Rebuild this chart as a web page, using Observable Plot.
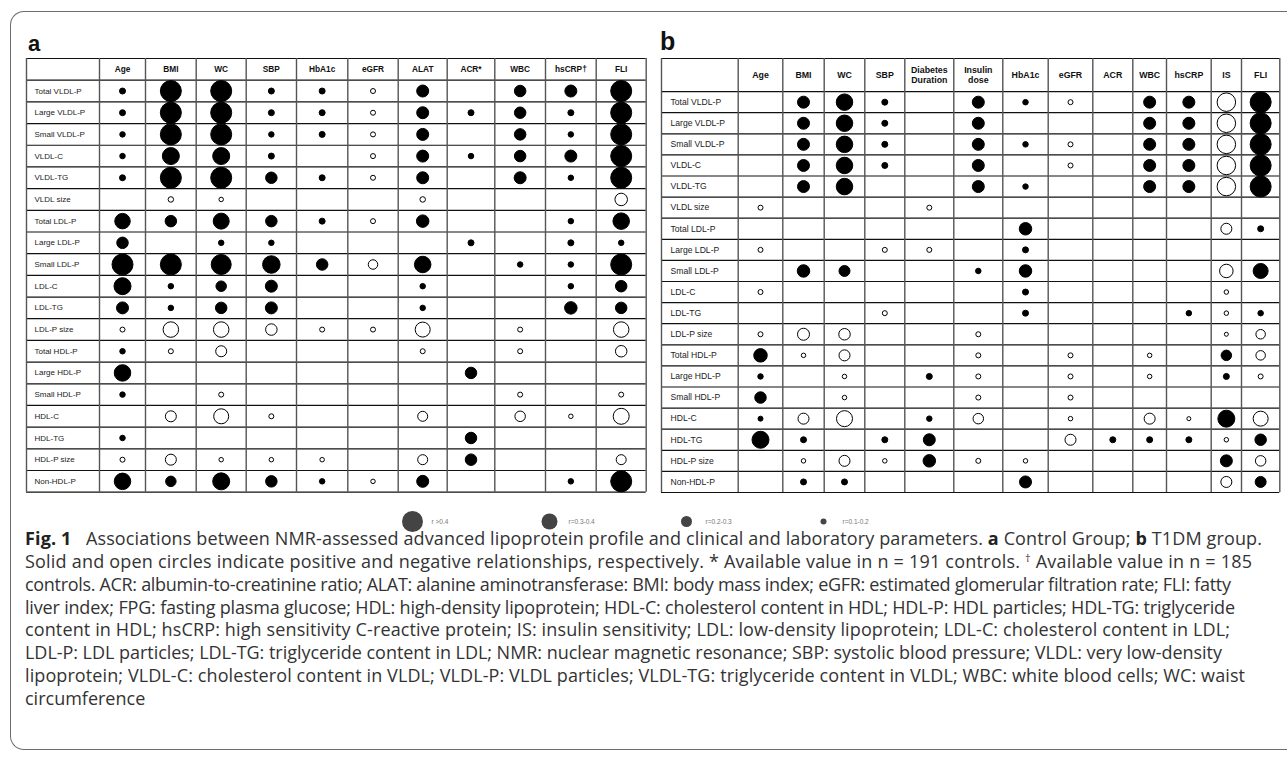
<!DOCTYPE html>
<html><head><meta charset="utf-8">
<script src="https://cdn.jsdelivr.net/npm/d3@7"></script>
<script src="https://cdn.jsdelivr.net/npm/@observablehq/plot@0.6"></script>
<style>
html,body{margin:0;padding:0;width:1287px;height:761px;overflow:hidden;background:#fff;}
#frame{position:absolute;left:10px;top:11px;width:1400px;height:739px;border:1.3px solid #6e6e6e;border-right:none;border-radius:14px 0 0 14px;box-sizing:border-box;}
.plabel{position:absolute;font-family:"Liberation Sans",Arial,sans-serif;font-weight:bold;line-height:1;color:#111;}
.abs{position:absolute;}
#caption{position:absolute;left:0;top:520px;}
#caption text{font-family:"Open Sans",sans-serif;font-size:18px;fill:#333;}
#caption tspan.b{font-weight:700;fill:#222;}
</style></head>
<body>
<div id="frame"></div>
<div class="plabel" style="left:28px;top:33px;font-size:22px;">a</div>
<div class="plabel" style="left:660px;top:29px;font-size:25px;">b</div>
<div id="panelA" class="abs" style="left:0;top:0;"></div>
<div id="panelB" class="abs" style="left:655px;top:0;"></div>
<div id="legend" class="abs" style="left:380px;top:505px;"></div>
<svg id="caption" width="1287" height="200" xmlns="http://www.w3.org/2000/svg">
<text x="25" y="25" textLength="1237" lengthAdjust="spacing"><tspan class="b">Fig. 1</tspan><tspan>&#160;&#160; Associations between NMR-assessed advanced lipoprotein profile and clinical and laboratory parameters. </tspan><tspan class="b">a</tspan><tspan> Control Group; </tspan><tspan class="b">b</tspan><tspan> T1DM group.</tspan></text>
<text x="25" y="47.86" textLength="1227" lengthAdjust="spacing">Solid and open circles indicate positive and negative relationships, respectively. * Available value in n = 191 controls. <tspan dy="-6" font-size="11">†</tspan><tspan dy="6"> Available value in n = 185</tspan></text>
<text x="25" y="70.72" textLength="1206" lengthAdjust="spacing">controls. ACR: albumin-to-creatinine ratio; ALAT: alanine aminotransferase: BMI: body mass index; eGFR: estimated glomerular filtration rate; FLI: fatty</text>
<text x="25" y="93.58" textLength="1210" lengthAdjust="spacing">liver index; FPG: fasting plasma glucose; HDL: high-density lipoprotein; HDL-C: cholesterol content in HDL; HDL-P: HDL particles; HDL-TG: triglyceride</text>
<text x="25" y="116.44" textLength="1205" lengthAdjust="spacing">content in HDL; hsCRP: high sensitivity C-reactive protein; IS: insulin sensitivity; LDL: low-density lipoprotein; LDL-C: cholesterol content in LDL;</text>
<text x="25" y="139.3" textLength="1197" lengthAdjust="spacing">LDL-P: LDL particles; LDL-TG: triglyceride content in LDL; NMR: nuclear magnetic resonance; SBP: systolic blood pressure; VLDL: very low-density</text>
<text x="25" y="162.16" textLength="1220" lengthAdjust="spacing">lipoprotein; VLDL-C: cholesterol content in VLDL; VLDL-P: VLDL particles; VLDL-TG: triglyceride content in VLDL; WBC: white blood cells; WC: waist</text>
<text x="25" y="185.02">circumference</text>
</svg>
<script>
const _ = null;
const rowLabels = ["Total VLDL-P","Large VLDL-P","Small VLDL-P","VLDL-C","VLDL-TG","VLDL size","Total LDL-P","Large LDL-P","Small LDL-P","LDL-C","LDL-TG","LDL-P size","Total HDL-P","Large HDL-P","Small HDL-P","HDL-C","HDL-TG","HDL-P size","Non-HDL-P"];
const colsA = ["Age","BMI","WC","SBP","HbA1c","eGFR","ALAT","ACR*","WBC","hsCRP†","FLI"];
const colsB = ["Age","BMI","WC","SBP","Diabetes\nDuration","Insulin\ndose","HbA1c","eGFR","ACR","WBC","hsCRP","IS","FLI"];
// estimated correlation strength (sign: + solid, - open)
const valuesA = [
  [0.15, 0.45, 0.45, 0.15, 0.15, -0.13, 0.27, _, 0.26, 0.27, 0.45],
  [0.15, 0.45, 0.45, 0.15, 0.15, -0.13, 0.27, 0.15, 0.26, 0.15, 0.45],
  [0.14, 0.45, 0.45, 0.14, 0.15, -0.13, 0.27, _, 0.26, 0.14, 0.45],
  [0.14, 0.37, 0.37, 0.15, _, -0.13, 0.27, 0.14, 0.26, 0.27, 0.45],
  [0.15, 0.45, 0.45, 0.26, 0.15, -0.13, 0.27, _, 0.27, 0.14, 0.45],
  [_, -0.14, -0.12, _, _, _, -0.14, _, _, _, -0.28],
  [0.34, 0.26, 0.35, 0.26, 0.15, -0.13, 0.28, _, _, 0.14, 0.36],
  [0.26, _, 0.14, 0.14, _, _, _, 0.15, _, 0.15, 0.14],
  [0.45, 0.45, 0.43, 0.38, 0.26, -0.22, 0.36, _, 0.14, 0.14, 0.45],
  [0.37, 0.14, 0.24, 0.27, _, _, 0.14, _, _, 0.14, 0.26],
  [0.27, 0.14, 0.26, 0.27, _, _, 0.14, _, _, 0.28, 0.26],
  [-0.13, -0.34, -0.34, -0.26, -0.13, -0.13, -0.33, _, -0.13, _, -0.34],
  [0.14, -0.13, -0.25, _, _, _, -0.13, _, -0.13, _, -0.26],
  [0.36, _, _, _, _, _, _, 0.26, _, _, _],
  [0.14, _, -0.13, _, _, _, _, _, -0.13, _, -0.13],
  [_, -0.25, -0.33, -0.13, _, _, -0.23, _, -0.24, -0.12, -0.35],
  [0.14, _, _, _, _, _, _, 0.26, _, _, _],
  [-0.13, -0.25, -0.12, -0.12, -0.12, _, -0.23, 0.26, _, _, -0.23],
  [0.36, 0.24, 0.37, 0.26, 0.14, -0.12, 0.27, _, _, 0.14, 0.45]
];
const valuesB = [
  [_, 0.27, 0.36, 0.15, _, 0.27, 0.14, -0.13, _, 0.27, 0.27, -0.4, 0.45],
  [_, 0.27, 0.36, 0.15, _, 0.27, _, _, _, 0.27, 0.27, -0.4, 0.45],
  [_, 0.27, 0.36, 0.15, _, 0.27, 0.14, -0.13, _, 0.27, 0.27, -0.4, 0.45],
  [_, 0.27, 0.36, 0.15, _, 0.27, _, -0.13, _, 0.27, 0.27, -0.4, 0.45],
  [_, 0.27, 0.36, _, _, 0.27, 0.14, _, _, 0.27, 0.27, -0.4, 0.45],
  [-0.13, _, _, _, -0.13, _, _, _, _, _, _, _, _],
  [_, _, _, _, _, _, 0.28, _, _, _, _, -0.25, 0.15],
  [-0.13, _, _, -0.13, -0.13, _, 0.15, _, _, _, _, _, _],
  [_, 0.28, 0.25, _, _, 0.14, 0.28, _, _, _, _, -0.3, 0.33],
  [-0.13, _, _, _, _, _, 0.15, _, _, _, _, -0.12, _],
  [_, _, _, -0.13, _, _, 0.15, _, _, _, 0.14, -0.12, 0.14],
  [-0.13, -0.27, -0.26, _, _, -0.13, _, _, _, _, _, -0.11, -0.22],
  [0.3, -0.12, -0.25, _, _, -0.13, _, -0.13, _, -0.12, _, 0.24, -0.22],
  [0.14, _, -0.12, _, 0.15, -0.13, _, -0.13, _, -0.12, _, 0.15, -0.13],
  [0.26, _, -0.12, _, _, -0.13, _, -0.13, _, _, _, _, _],
  [0.13, -0.25, -0.35, _, 0.14, -0.24, _, -0.12, _, -0.25, -0.11, 0.37, -0.33],
  [0.37, 0.15, _, 0.15, 0.27, _, _, -0.25, 0.15, 0.15, 0.15, -0.12, 0.26],
  [_, -0.12, -0.25, -0.12, 0.28, -0.13, -0.12, _, _, _, _, 0.27, -0.24],
  [_, 0.15, 0.15, _, _, _, 0.27, _, _, _, _, -0.25, 0.25]
];
const legendValues = [0.45, 0.35, 0.25, 0.15];
const legendLabels = ["r >0.4", "r=0.3-0.4", "r=0.2-0.3", "r=0.1-0.2"];

// layout (pixels)
const layoutA = {left: 0, width: 655, x0: 26, x1: 645.7, y0: 58, y1: 491.7, hdrRows: 1,
  labelW: 73, colW: [46, 50.7, 50, 50.3, 51.3, 50.4, 49, 47.6, 50.7, 50.7, 50], hdrFont: 8.3, labelFont: 8, pad: 8};
const layoutB = {left: 655, width: 632, x0: 661, x1: 1279.3, y0: 58, y1: 492, hdrRows: 1.57,
  labelW: 76.7, colW: [44.6, 41.4, 40.6, 40, 49, 49, 45.4, 44.6, 40, 33.7, 44.7, 30.3, 38.3], hdrFont: 8.8, labelFont: 8.6, pad: 9};
const rScale = {type: "linear", domain: [0.03, 0.45], range: [0, 10.5]};
const FONT = '"Liberation Sans", Arial, sans-serif';

function table(cols, values, L) {
  const widths = [L.labelW, ...L.colW];
  const edges = [0];
  widths.forEach(w => edges.push(edges[edges.length - 1] + w));
  const total = edges[edges.length - 1];
  const nRows = rowLabels.length;
  const yEnd = L.hdrRows + nRows;
  const mid = j => (edges[j + 1] + edges[j + 2]) / 2;
  const colData = cols.map((c, j) => ({name: c, x: mid(j)}));
  const cells = [];
  values.forEach((row, i) => row.forEach((v, j) => {
    if (v != null) cells.push({v, x: mid(j), y: L.hdrRows + i + 0.5});
  }));
  const hLines = [0, ...d3.range(nRows + 1).map(i => L.hdrRows + i)];
  return Plot.plot({
    width: L.width, height: 500, margin: 0,
    style: {background: "transparent", fontFamily: FONT, overflow: "visible"},
    x: {type: "linear", domain: [0, total], range: [L.x0 - L.left, L.x1 - L.left], axis: null},
    y: {type: "linear", domain: [0, yEnd], range: [L.y0, L.y1], axis: null},
    r: rScale,
    color: {type: "identity"},
    marks: [
      Plot.ruleY(hLines, {y: d => d, x1: 0, x2: total, stroke: "#111", strokeWidth: 1.2}),
      Plot.ruleX(edges, {x: d => d, y1: 0, y2: yEnd, stroke: "#555", strokeWidth: 1.4}),
      Plot.text(colData, {x: "x", y: L.hdrRows / 2, text: "name", fontWeight: "bold", fontSize: L.hdrFont, lineHeight: 1.08, fill: "#111"}),
      Plot.text(rowLabels, {x: 0, y: (d, i) => L.hdrRows + i + 0.5, text: d => d, textAnchor: "start", dx: L.pad, fontSize: L.labelFont, fill: "#222"}),
      Plot.dot(cells, {x: "x", y: "y", r: d => Math.abs(d.v), fill: d => d.v > 0 ? "#000" : "#fff", stroke: "#000", strokeWidth: 1})
    ]
  });
}

document.getElementById("panelA").appendChild(table(colsA, valuesA, layoutA));
document.getElementById("panelB").appendChild(table(colsB, valuesB, layoutB));

document.getElementById("legend").appendChild(Plot.plot({
  width: 500, height: 32, margin: 0,
  style: {background: "transparent", fontFamily: FONT},
  x: {type: "linear", domain: [0, 3], range: [32, 443], axis: null},
  r: rScale,
  marks: [
    Plot.dot(legendValues, {x: (d, i) => i, r: d => d, fill: "#444"}),
    Plot.text(legendLabels, {x: (d, i) => i, text: d => d, dx: 19, textAnchor: "start", fontSize: 6.5, fill: "#777"})
  ]
}));
</script>
</body></html>
